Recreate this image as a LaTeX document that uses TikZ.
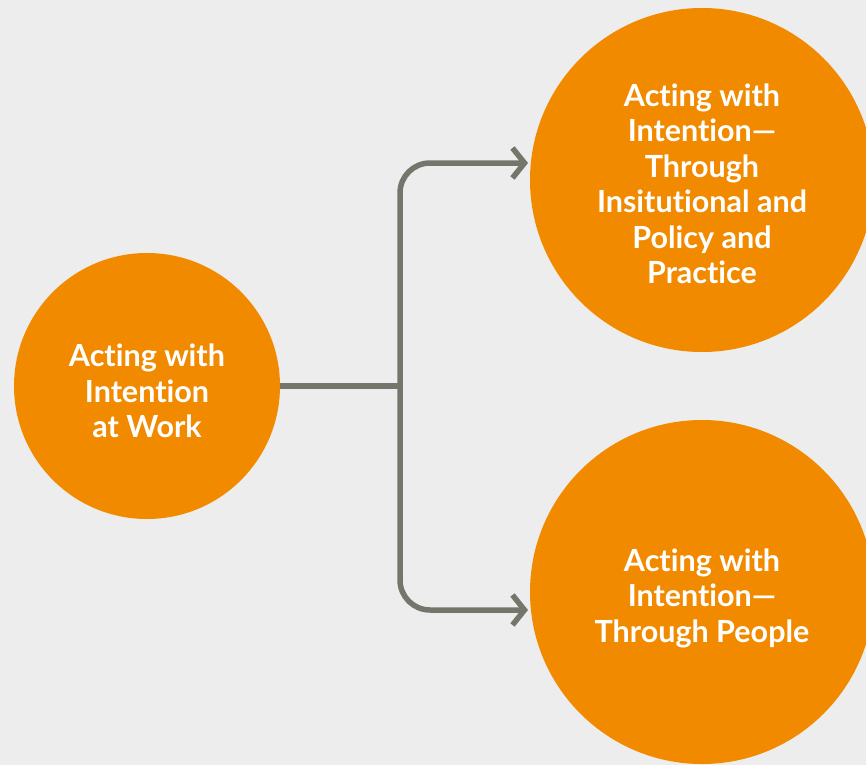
\documentclass[tikz,border=0pt]{standalone}
\usepackage{fontspec}
\setmainfont{Lato}[UprightFont=* Bold,Ligatures=NoCommon]
\usetikzlibrary{arrows.meta}
\definecolor{bgGrey}{HTML}{EDEDED}
\definecolor{actOrange}{HTML}{F28A00}
\definecolor{linkGrey}{HTML}{74766B}
\tikzset{
 actcircle/.style={circle,fill=actOrange,inner sep=0pt},
 acttext/.style={align=center,text=white,font=\fontsize{30.5}{35.5}\selectfont},
 link/.style={draw=linkGrey,line width=5.5pt,rounded corners=30pt},
}
\begin{document}
\begin{tikzpicture}[x=1pt,y=-1pt,>={Straight Barb[length=12pt,width=30pt]}]
 \useasboundingbox (0,0) rectangle (866,765);
 \fill[bgGrey] (0,0) rectangle (866,765);
 \clip (0,0) rectangle (866,765);
 % circles
 \node[actcircle,minimum size=266pt] (work) at (147,386) {};
 \node[acttext] (workText) at (147,391) {Acting with\\Intention\\at Work};
 \node[actcircle,minimum size=344pt] (policy) at (702,180) {};
 \node[acttext] (policyText) at (702,184) {Acting with\\Intention—\\Through\\Insitutional and\\Policy and\\Practice};
 \node[actcircle,minimum size=344pt] (people) at (702,592) {};
 \node[acttext] (peopleText) at (702,598) {Acting with\\Intention—\\Through People};
 % connectors
 \coordinate (split) at (400,386);
 \coordinate (tipPolicy) at (528,163);
 \coordinate (tipPeople) at (528,610);
 \draw[link] (work.east) -- (split);
 \draw[link,->] (split) |- (tipPolicy);
 \draw[link,->] (split) |- (tipPeople);
\end{tikzpicture}
\end{document}
